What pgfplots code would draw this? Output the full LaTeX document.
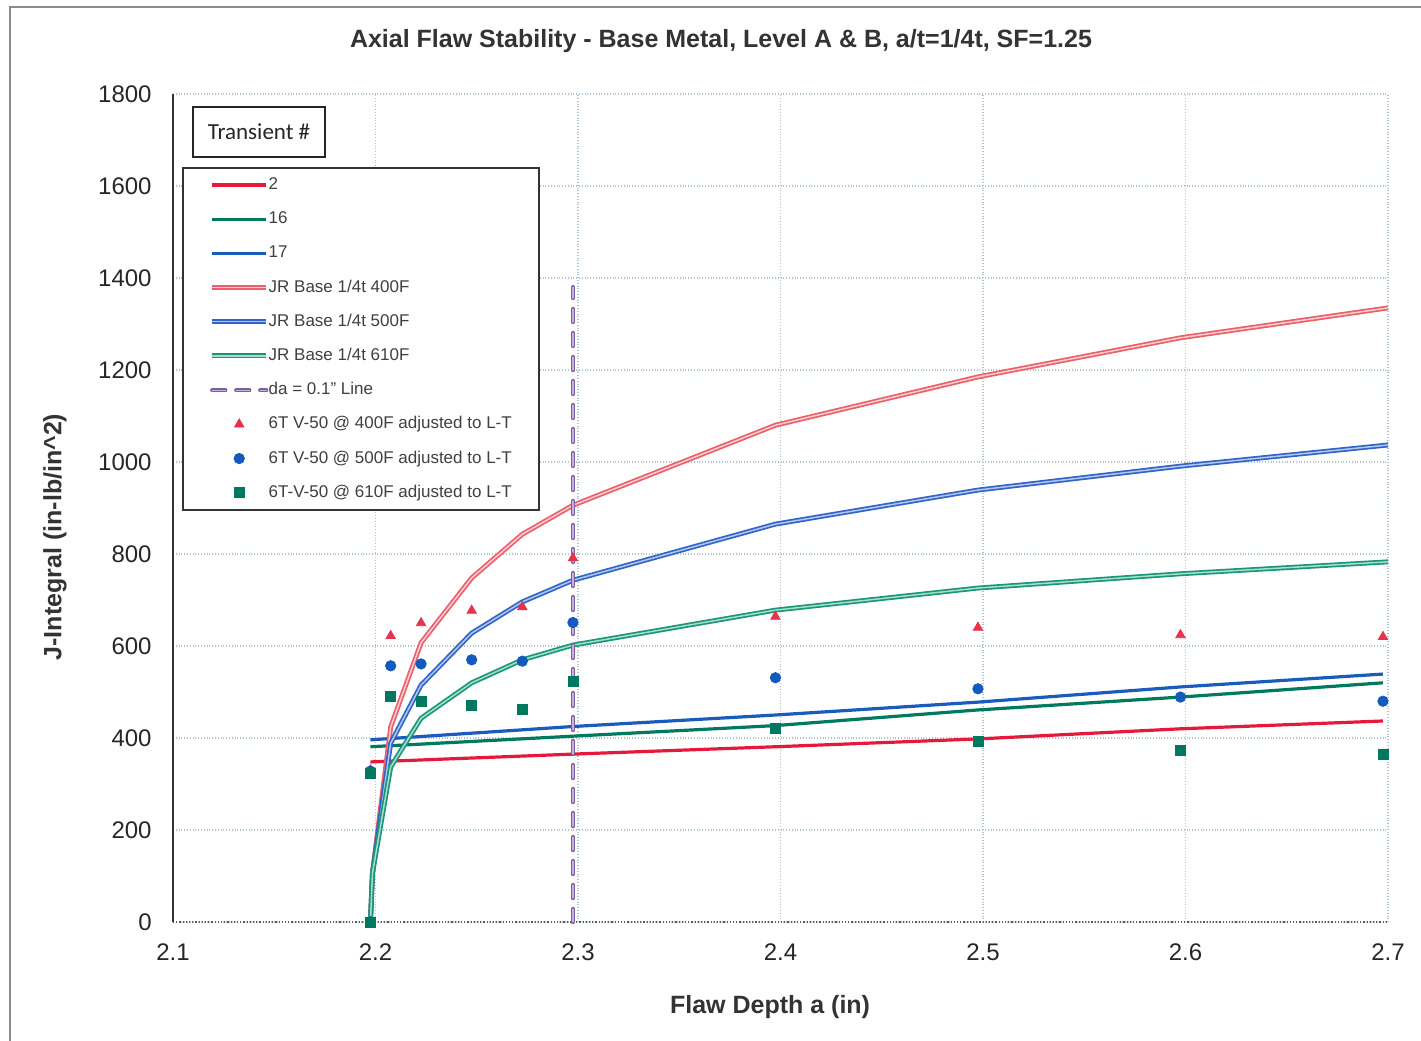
\documentclass[border=0pt]{standalone}
\usepackage{fontspec}
\setmainfont{Liberation Sans}
\newfontfamily\calib{Carlito}
\usepackage{pgfplots}
\pgfplotsset{compat=1.18}

\definecolor{gridc}{RGB}{175,195,212}
\definecolor{tred}{RGB}{230,25,60}
\definecolor{tgreen}{RGB}{0,122,94}
\definecolor{tblue}{RGB}{26,92,190}
\definecolor{jrred}{RGB}{235,95,105}
\definecolor{jrredin}{RGB}{250,205,210}
\definecolor{jrblue}{RGB}{50,100,200}
\definecolor{jrbluein}{RGB}{175,198,238}
\definecolor{jrgreen}{RGB}{25,150,120}
\definecolor{jrgreenin}{RGB}{165,222,202}
\definecolor{daline}{RGB}{125,95,160}
\definecolor{dalinein}{RGB}{195,178,218}
\definecolor{mtri}{RGB}{232,50,75}
\definecolor{mcirc}{RGB}{20,90,190}
\definecolor{msq}{RGB}{0,120,95}

\begin{document}
\begin{tikzpicture}
\begin{axis}[
    name=ax,
    scale only axis,
    width=607.5pt, height=414pt,
    xmin=2.1, xmax=2.7, ymin=0, ymax=1800,
    xtick={2.1,2.2,2.3,2.4,2.5,2.6,2.7},
    ytick={0,200,400,600,800,1000,1200,1400,1600,1800},
    xticklabels={2.1,2.2,2.3,2.4,2.5,2.6,2.7},
    yticklabels={0,200,400,600,800,1000,1200,1400,1600,1800},
    axis x line*=bottom, axis y line*=left,
    x axis line style={-, densely dotted, black!65, line width=0.6pt},
    y axis line style={-, black!80, line width=0.6pt},
    major tick length=0pt,
    grid=major,
    grid style={densely dotted, gridc, line width=0.6pt},
    clip=false,
    ticklabel style={font=\fontsize{12}{14}\selectfont, text=black!85},
    yticklabel style={inner xsep=0pt, xshift=-10.5pt},
    xticklabel style={inner ysep=0pt, yshift=-10.5pt},
    every axis title shift=0pt,
    title={Axial Flaw Stability - Base Metal, Level A \& B, a/t=1/4t, SF=1.25},
    title style={at={(axis description cs:0.451,1.0640)}, anchor=center,
        font=\bfseries\fontsize{12.5}{15}\selectfont, text=black!80},
    xlabel={Flaw Depth a (in)},
    xlabel style={at={(axis description cs:0.4914,-0.1027)}, anchor=center,
        font=\bfseries\fontsize{12.5}{15}\selectfont, text=black!80},
    ylabel={J-Integral (in-lb/in\textasciicircum 2)},
    ylabel style={at={(axis description cs:-0.0971,0.465)}, anchor=center,
        font=\bfseries\fontsize{12.5}{15}\selectfont, text=black!80},
    legend cell align=left,
    legend image code/.code={\draw[mark repeat=2,mark phase=2,#1]
        plot coordinates {(0pt,0pt) (13.5pt,0pt) (27pt,0pt)};},
    legend style={at={(axis description cs:0.0074,0.9118)}, anchor=north west,
        draw=black!80, line width=0.8pt, fill=white,
        inner xsep=13.5pt, inner ysep=0pt, row sep=0pt,
        font=\fontsize{8.5}{10}\selectfont\color{black!75},
        nodes={minimum height=17.1pt, inner ysep=0pt, inner xsep=0pt},
        /tikz/every even column/.append style={column sep=2.5pt}},
]
% transients
\addplot[tred, line width=1.6pt] coordinates {
    (2.1975,348) (2.2975,365) (2.3975,381) (2.4975,398) (2.5975,420) (2.6975,437)};
\addlegendentry{2}
\addplot[tgreen, line width=1.6pt] coordinates {
    (2.1975,381) (2.2975,404) (2.3975,427) (2.4975,461) (2.5975,489) (2.6975,520)};
\addlegendentry{16}
\addplot[tblue, line width=1.6pt] coordinates {
    (2.1975,396) (2.2975,425) (2.3975,450) (2.4975,478) (2.5975,511) (2.6975,539)};
\addlegendentry{17}
% JR curves
\addplot[jrred, line width=0.85pt, double=jrredin, double distance=0.75pt] coordinates {
    (2.1975,0) (2.1985,106) (2.2075,424) (2.2225,607) (2.2475,748) (2.2725,843)
    (2.2975,906) (2.3975,1080) (2.4975,1185) (2.5975,1270) (2.7,1335)};
\addlegendentry{JR Base 1/4t 400F}
\addplot[jrblue, line width=0.85pt, double=jrbluein, double distance=0.75pt] coordinates {
    (2.1975,0) (2.1985,106) (2.2075,389) (2.2225,515) (2.2475,628) (2.2725,696)
    (2.2975,743) (2.3975,865) (2.4975,939) (2.5975,991) (2.7,1037)};
\addlegendentry{JR Base 1/4t 500F}
\addplot[jrgreen, line width=0.85pt, double=jrgreenin, double distance=0.75pt] coordinates {
    (2.1975,0) (2.1985,106) (2.2075,337) (2.2225,443) (2.2475,520) (2.2725,570)
    (2.2975,602) (2.3975,678) (2.4975,726) (2.5975,757) (2.7,783)};
\addlegendentry{JR Base 1/4t 610F}
% da = 0.1 line
\addplot[daline, line width=0.8pt, double=dalinein, double distance=0.6pt,
    line cap=round, dash pattern=on 6.5pt off 5.5pt] coordinates {(2.2975,0) (2.2975,1380)};
\addlegendentry{da = 0.1" Line}
% test data
\addplot[only marks, mark=triangle*, mark size=2.7pt, color=mtri, line width=0.4pt] coordinates {
    (2.1975,0) (2.1975,330) (2.2075,622) (2.2225,650) (2.2475,677) (2.2725,685)
    (2.2975,791) (2.3975,664) (2.4975,640) (2.5975,624) (2.6975,620)};
\addlegendentry{6T V-50 @ 400F adjusted to L-T}
\addplot[only marks, mark=*, mark size=2.6pt, color=mcirc, line width=0.4pt] coordinates {
    (2.1975,0) (2.1975,328) (2.2075,557) (2.2225,561) (2.2475,570) (2.2725,567)
    (2.2975,651) (2.3975,531) (2.4975,507) (2.5975,489) (2.6975,480)};
\addlegendentry{6T V-50 @ 500F adjusted to L-T}
\addplot[only marks, mark=square*, mark size=2.5pt, color=msq, line width=0.4pt] coordinates {
    (2.1975,0) (2.1975,322) (2.2075,491) (2.2225,479) (2.2475,470) (2.2725,463)
    (2.2975,524) (2.3975,420) (2.4975,392) (2.5975,374) (2.6975,365)};
\addlegendentry{6T-V-50 @ 610F adjusted to L-T}
\end{axis}
\node[draw=black!85, line width=0.8pt, fill=white, minimum width=66pt, minimum height=25pt,
    inner sep=0pt, font=\calib\fontsize{11.5}{13}\selectfont, text=black!85]
    at ([xshift=43pt,yshift=-19pt]ax.north west) {Transient \#};
\pgfresetboundingbox
\path[use as bounding box] ([xshift=-86.5pt,yshift=-59pt]ax.south west)
    rectangle ([xshift=16.5pt,yshift=47pt]ax.north east);
\draw[black!45, line width=0.9pt] ([xshift=-81.5pt,yshift=-60pt]ax.south west)
    -- ([xshift=-81.5pt,yshift=43.5pt]ax.north west)
    -- ([xshift=17pt,yshift=43.5pt]ax.north east);
\end{tikzpicture}
\end{document}
